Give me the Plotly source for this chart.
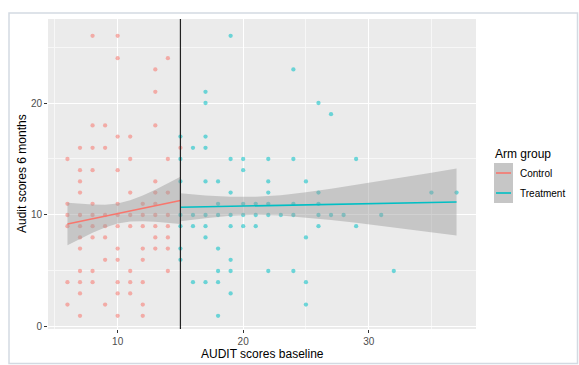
import plotly.graph_objects as go

# ---- data ----
control_x = [6, 6, 6, 6, 6, 6,
             7, 7, 7, 7, 7, 7, 7, 7, 7, 7, 7, 7,
             8, 8, 8, 8, 8, 8, 8, 8, 8, 8,
             9, 9, 9, 9, 9, 9, 9,
             10, 10, 10, 10, 10, 10, 10, 10, 10, 10, 10, 10,
             11, 11, 11, 11, 11, 11, 11, 11,
             12, 12, 12, 12, 12, 12, 12, 12,
             13, 13, 13, 13, 13, 13, 13, 13, 13, 13,
             14, 14, 14, 14, 14, 14, 14, 14,
             15]
control_y = [15, 11, 10, 9, 4, 2,
             16, 14, 13, 12, 10, 9, 8, 7, 5, 4, 3, 1,
             26, 18, 16, 14, 11, 10, 9, 8, 5, 4,
             18, 16, 10, 9, 8, 6, 2,
             26, 24, 17, 14, 11, 10, 9, 7, 6, 4, 3, 1,
             17, 15, 12, 10, 9, 5, 4, 3,
             11, 10, 9, 7, 6, 4, 2, 1,
             23, 21, 18, 13, 12, 11, 10, 9, 8, 7,
             24, 15, 12, 10, 9, 8, 7, 5,
             16]

treat_x = [15, 15, 15, 15, 15, 15, 15,
           16, 16, 16, 16,
           17, 17, 17, 17, 17, 17, 17, 17, 17,
           18, 18, 18, 18, 18, 18, 18,
           19, 19, 19, 19, 19, 19, 19, 19,
           20, 20, 20, 20, 20,
           21, 21, 21,
           22, 22, 22, 22, 22, 22,
           23,
           24, 24, 24, 24, 24,
           25, 25, 25, 25,
           26, 26, 26, 26, 26,
           27, 27,
           28,
           29, 29,
           31,
           32,
           35,
           37]
treat_y = [17, 15, 13, 10, 9, 7, 6,
           16, 10, 9, 4,
           21, 20, 17, 16, 13, 10, 9, 8, 4,
           13, 11, 10, 7, 5, 4, 1,
           26, 15, 12, 10, 9, 6, 5, 3,
           15, 14, 11, 10, 9,
           11, 10, 9,
           15, 13, 12, 11, 10, 5,
           10,
           23, 15, 11, 10, 5,
           13, 8, 4, 2,
           20, 12, 11, 10, 9,
           19, 10,
           10,
           15, 9,
           10,
           5,
           12,
           12]

# linear fits with 95% bands
control_fit_x = [6, 7, 8, 9, 10, 11, 12, 13, 14, 15]
control_fit = [9.20, 9.43, 9.67, 9.90, 10.13, 10.37, 10.60, 10.83, 11.06, 11.30]
control_lo = [7.30, 7.87, 8.41, 8.88, 9.23, 9.42, 9.45, 9.40, 9.30, 9.19]
control_hi = [11.10, 10.99, 10.93, 10.92, 11.03, 11.32, 11.75, 12.26, 12.82, 13.41]

treat_fit_x = [15, 17, 19, 21, 23, 25, 27, 29, 31, 33, 35, 37]
treat_fit = [10.69, 10.73, 10.78, 10.82, 10.86, 10.90, 10.95, 10.99, 11.03, 11.08, 11.12, 11.16]
treat_lo = [9.44, 9.72, 9.94, 10.02, 9.95, 9.78, 9.56, 9.30, 9.02, 8.75, 8.46, 8.16]
treat_hi = [11.94, 11.74, 11.62, 11.62, 11.77, 12.02, 12.34, 12.68, 13.04, 13.41, 13.78, 14.16]

groups = ["Control", "Treatment"]
colors = ["#F8766D", "#00BFC4"]
x_ticks = [10, 20, 30]
y_ticks = [0, 10, 20]
cutoff = 15

FONT = "Arial, Liberation Sans, sans-serif"
fig = go.Figure()

points = [(control_x, control_y), (treat_x, treat_y)]
fits = [(control_fit_x, control_fit, control_lo, control_hi),
        (treat_fit_x, treat_fit, treat_lo, treat_hi)]

for (gx, gy), name, col in zip(points, groups, colors):
    fig.add_trace(go.Scatter(x=gx, y=gy, mode="markers", name=name,
                             marker=dict(color=col, size=4.3, opacity=0.55, line=dict(width=0)),
                             showlegend=False))

for (fx, fy, lo, hi), name, col in zip(fits, groups, colors):
    fig.add_trace(go.Scatter(x=list(fx) + list(fx)[::-1], y=list(hi) + list(lo)[::-1],
                             fill="toself", fillcolor="rgba(153,153,153,0.45)",
                             line=dict(width=0), mode="lines",
                             showlegend=False, hoverinfo="skip"))
    fig.add_trace(go.Scatter(x=fx, y=fy, mode="lines", line=dict(color=col, width=1.6),
                             name=name + " fit", showlegend=False))

fig.add_shape(type="line", xref="x", yref="paper", x0=cutoff, x1=cutoff, y0=0, y1=1,
              line=dict(color="#222222", width=1.2))

W, H = 579, 365
L, R, T, B = 48, 476, 19, 329


def px(v):
    return (v - L) / (R - L)


def py(v):
    return (B - v) / (B - T)


# outer frame
fig.add_shape(type="rect", xref="paper", yref="paper",
              x0=px(9), x1=px(577.5), y0=py(363.5), y1=py(13),
              line=dict(color="#D3DAE2", width=1.5))

# manual legend
fig.add_annotation(xref="paper", yref="paper", x=px(493), y=py(154), text="Arm group",
                   showarrow=False, xanchor="left", yanchor="middle",
                   font=dict(family=FONT, size=12, color="#000000"))
for i, (name, col) in enumerate(zip(groups, colors)):
    top = 163 + i * 20
    fig.add_shape(type="rect", xref="paper", yref="paper",
                  x0=px(494), x1=px(513), y0=py(top + 20), y1=py(top),
                  fillcolor="#C6C6C6", line=dict(width=0))
    fig.add_shape(type="line", xref="paper", yref="paper",
                  x0=px(496), x1=px(511), y0=py(top + 10), y1=py(top + 10),
                  line=dict(color=col, width=1.6))
    fig.add_annotation(xref="paper", yref="paper", x=px(518), y=py(top + 10), text=name,
                       showarrow=False, xanchor="left", yanchor="middle",
                       font=dict(family=FONT, size=10, color="#000000"))

fig.add_annotation(xref="paper", yref="paper", x=px(262), y=py(354), text="AUDIT scores baseline",
                   showarrow=False, xanchor="center", yanchor="middle",
                   font=dict(family=FONT, size=12, color="#000000"))
fig.add_annotation(xref="paper", yref="paper", x=px(22), y=0.5, text="Audit scores 6 months",
                   showarrow=False, xanchor="center", yanchor="middle", textangle=-90,
                   font=dict(family=FONT, size=12, color="#000000"))

fig.update_layout(
    width=W, height=H,
    margin=dict(l=L, r=W - R, t=T, b=H - B, pad=0),
    paper_bgcolor="white", plot_bgcolor="#EBEBEB",
    font=dict(family=FONT, size=10, color="#4D4D4D"),
    showlegend=False,
    xaxis=dict(range=[4.45, 38.55], tickvals=x_ticks, ticks="outside", ticklen=3,
               tickcolor="#333333", tickwidth=1, showgrid=True, gridcolor="white", gridwidth=1.1,
               zeroline=False, showline=False, tickfont=dict(size=10, color="#4D4D4D"),
               minor=dict(tickvals=[5, 15, 25, 35], showgrid=True, gridcolor="#F7F7F7",
                          gridwidth=0.6, ticks="")),
    yaxis=dict(range=[-0.18, 27.5], tickvals=y_ticks, ticks="outside", ticklen=3,
               tickcolor="#333333", tickwidth=1, showgrid=True, gridcolor="white", gridwidth=1.1,
               zeroline=False, showline=False, tickfont=dict(size=10, color="#4D4D4D"),
               minor=dict(tickvals=[5, 15, 25], showgrid=True, gridcolor="#F7F7F7",
                          gridwidth=0.6, ticks="")),
)

fig.write_html("out.html", config={"displayModeBar": False},
               post_script="document.body.style.margin='0';")
